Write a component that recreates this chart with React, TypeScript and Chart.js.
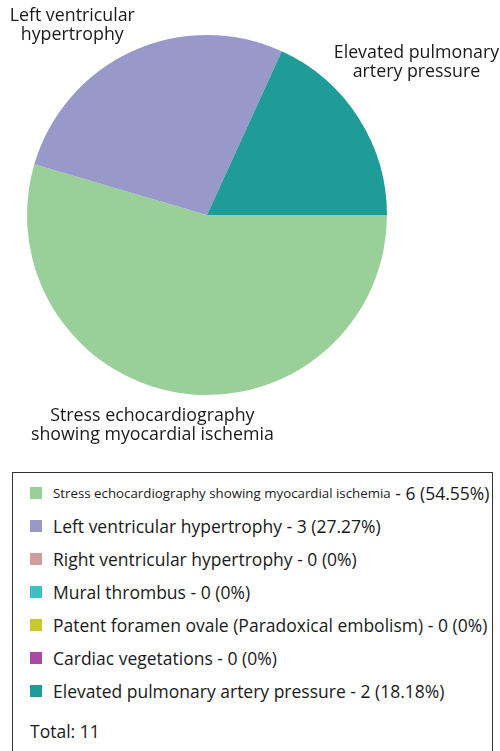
import React, { useEffect, useRef } from "react";
import { Chart, registerables } from "chart.js";

Chart.register(...registerables);

const categories = [
  "Stress echocardiography showing myocardial ischemia",
  "Left ventricular hypertrophy",
  "Right ventricular hypertrophy",
  "Mural thrombus",
  "Patent foramen ovale (Paradoxical embolism)",
  "Cardiac vegetations",
  "Elevated pulmonary artery pressure",
];
const counts = [6, 3, 0, 0, 0, 0, 2];
const colors = ["#9ACF9A", "#9898CB", "#D09C9C", "#3EBFC6", "#C9C92E", "#A64AA6", "#1F9C98"];
const pieLabelLines: string[][] = [
  ["Stress echocardiography", "showing myocardial ischemia"],
  ["Left ventricular", "hypertrophy"],
  [],
  [],
  [],
  [],
  ["Elevated pulmonary", "artery pressure"],
];
// offsets of the outside labels from the arc's outer midpoint (px)
const labelOffsets: [number, number][] = [
  [-29, 32],
  [-60, -26],
  [0, 0],
  [0, 0],
  [0, 0],
  [0, 0],
  [58, -55],
];
const legendLabelSizes = [13.3, 17.5, 17.5, 17.5, 17.5, 17.5, 17.5];

const FONT = "'Open Sans', sans-serif";

const outsideLabels = {
  id: "outsideLabels",
  afterDatasetsDraw(chart: any) {
    const ctx = chart.ctx;
    const meta = chart.getDatasetMeta(0);
    ctx.save();
    ctx.fillStyle = "#1a1a1a";
    ctx.font = `17.8px ${FONT}`;
    ctx.textAlign = "center";
    ctx.textBaseline = "middle";
    meta.data.forEach((arc: any, i: number) => {
      const lines = pieLabelLines[i];
      if (!lines || !lines.length || !counts[i]) return;
      const { x, y, startAngle, endAngle, outerRadius } = arc.getProps(
        ["x", "y", "startAngle", "endAngle", "outerRadius"],
        true
      );
      const mid = (startAngle + endAngle) / 2;
      const ax = x + Math.cos(mid) * outerRadius + labelOffsets[i][0];
      const ay = y + Math.sin(mid) * outerRadius + labelOffsets[i][1];
      const lh = 19;
      const top = ay - ((lines.length - 1) * lh) / 2;
      lines.forEach((ln, k) => ctx.fillText(ln, ax, top + k * lh));
    });
    ctx.restore();
  },
};

export default function App() {
  const ref = useRef<HTMLCanvasElement>(null);
  useEffect(() => {
    if (!ref.current) return;
    const chart = new Chart(ref.current, {
      type: "pie",
      data: {
        labels: categories,
        datasets: [
          {
            data: counts,
            backgroundColor: colors,
            borderWidth: 0,
          },
        ],
      },
      options: {
        animation: false,
        responsive: false,
        rotation: 90,
        layout: { padding: { left: 27, right: 113, top: 35, bottom: 75 } },
        plugins: { legend: { display: false }, tooltip: { enabled: false } },
      },
      plugins: [outsideLabels],
    });
    return () => chart.destroy();
  }, []);

  const total = counts.reduce((a, b) => a + b, 0);
  const pct = (v: number) => (v === 0 ? "0" : ((v / total) * 100).toFixed(2));

  return (
    <div
      style={{
        position: "absolute",
        left: 0,
        top: 0,
        width: 500,
        height: 751,
        overflow: "hidden",
        background: "#fff",
        fontFamily: FONT,
        color: "#1a1a1a",
      }}
    >
      <canvas ref={ref} width={500} height={470} style={{ position: "absolute", left: 0, top: 0 }} />
      <div
        style={{
          position: "absolute",
          left: 12,
          top: 472,
          width: 479,
          height: 300,
          border: "1.5px solid #333",
          boxSizing: "content-box",
          paddingTop: 3.5,
        }}
      >
        {categories.map((c, i) => (
          <div
            key={c}
            style={{
              height: 33,
              display: "flex",
              alignItems: "center",
              paddingLeft: 17,
              whiteSpace: "nowrap",
              fontSize: 17.5,
            }}
          >
            <span
              style={{
                display: "inline-block",
                width: 12,
                height: 12,
                background: colors[i],
                marginRight: 11,
                flex: "none",
              }}
            />
            <span style={{ fontSize: legendLabelSizes[i] }}>{c}</span>
            <span>&nbsp;- {counts[i]} ({pct(counts[i])}%)</span>
          </div>
        ))}
        <div style={{ height: 33, marginTop: 7, display: "flex", alignItems: "center", paddingLeft: 17, fontSize: 17.5 }}>
          Total: {total}
        </div>
      </div>
    </div>
  );
}
